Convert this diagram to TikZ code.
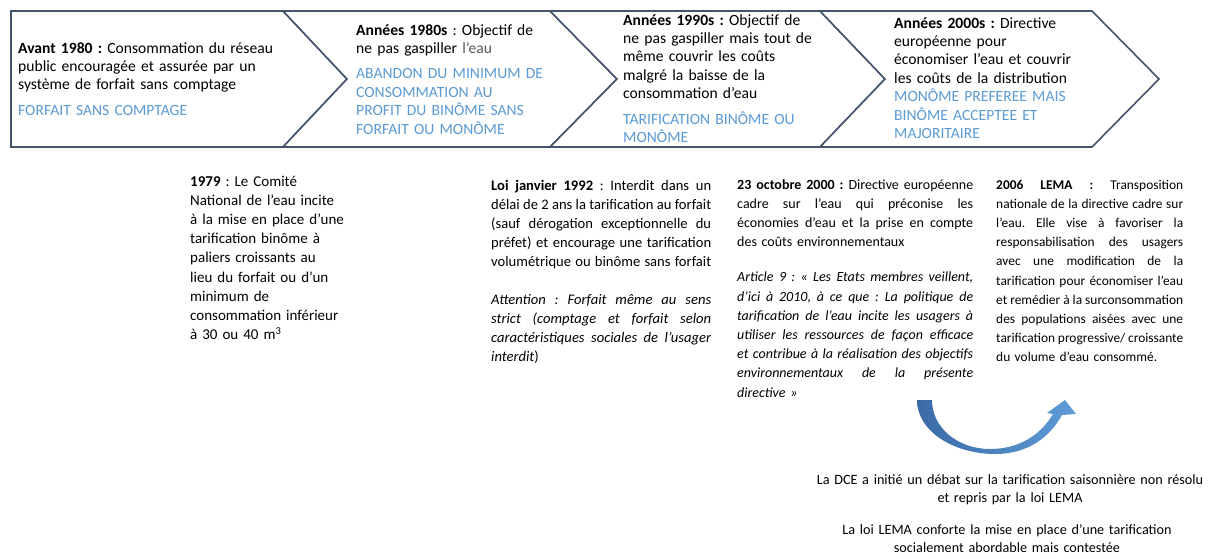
\documentclass[tikz,border=0pt]{standalone}
\usepackage{fontspec}
\setmainfont{Carlito}
\definecolor{edge}{HTML}{44546A}
\definecolor{capblue}{HTML}{5B9BD5}
\definecolor{arrowdark}{HTML}{3A6AA6}
\definecolor{arrowlight}{HTML}{5E9DD8}
\newcommand\jl[1]{\makebox[\linewidth][s]{\spaceskip=0.22em plus 1fil minus 0.1em\relax #1}\\}
\newcommand\sq{\char"27\relax}
\frenchspacing
\tikzset{
  chev/.style={draw=edge, line width=1.6pt, fill=white, line join=miter},
  ctext/.style={anchor=base west, inner sep=0pt, align=left, text width=#1,
    font=\fontsize{15.6}{18.4}\selectfont\frenchspacing},
  btext/.style={anchor=base west, inner sep=0pt, align=left, text width=#1,
    font=\fontsize{15}{19.2}\selectfont\frenchspacing},
  note/.style={anchor=base, inner sep=0pt, align=center, text width=420pt,
    font=\fontsize{14.2}{18.4}\selectfont\frenchspacing}
}
\begin{document}
\begin{tikzpicture}[x=1pt,y=-1pt]
\useasboundingbox (0,0) rectangle (1209,558);
% chevrons
\draw[chev] (11,11) -- (283,11) -- (347,79) -- (283,147) -- (11,147) -- cycle;
\draw[chev] (283,11) -- (550,11) -- (617,79) -- (550,147) -- (283,147) -- (347,79) -- cycle;
\draw[chev] (550,11) -- (820,11) -- (885,79) -- (820,147) -- (550,147) -- (617,79) -- cycle;
\draw[chev] (820,11) -- (1092,11) -- (1159,79) -- (1092,147) -- (820,147) -- (885,79) -- cycle;

\node[ctext=280pt] (c1) at (18,53) {\textbf{Avant 1980 :} Consommation du réseau\\
public encouragée et assurée par un\\
système de forfait sans comptage\\[7pt]
\textcolor{capblue}{FORFAIT SANS COMPTAGE}};

\node[ctext=220pt] (c2) at (356,35) {\textbf{Années 1980s} : Objectif de\\
ne pas gaspiller \textcolor{black!65}{l\sq eau}\\[7pt]
\textcolor{capblue}{ABANDON DU MINIMUM DE}\\
\textcolor{capblue}{CONSOMMATION AU}\\
\textcolor{capblue}{PROFIT DU BINÔME SANS}\\
\textcolor{capblue}{FORFAIT OU MONÔME}};

\node[ctext=220pt] (c3) at (623,25) {\textbf{Années 1990s :} Objectif de\\
ne pas gaspiller mais tout de\\
même couvrir les coûts\\
malgré la baisse de la\\
consommation d\sq eau\\[7pt]
\textcolor{capblue}{TARIFICATION BINÔME OU}\\
\textcolor{capblue}{MONÔME}};

\node[ctext=220pt] (c4) at (894,28) {\textbf{Années 2000s :} Directive\\
européenne pour\\
économiser l\sq eau et couvrir\\
les coûts de la distribution\\
\textcolor{capblue}{MONÔME PREFEREE MAIS}\\
\textcolor{capblue}{BINÔME ACCEPTEE ET}\\
\textcolor{capblue}{MAJORITAIRE}};

% lower blocks
\node[btext=180pt] (b1979) at (190,186) {\textbf{1979} : Le Comité\\
National de l’eau incite\\
à la mise en place d’une\\
tarification binôme à\\
paliers croissants au\\
lieu du forfait ou d’un\\
minimum de\\
consommation inférieur\\
à 30 ou 40 m\textsuperscript{3}};

\node[btext=220pt, font=\fontsize{14.6}{19.2}\selectfont\frenchspacing] (b1992) at (491,190) {\jl{\textbf{Loi janvier 1992} : Interdit dans un}
\jl{délai de 2 ans la tarification au forfait}
\jl{(sauf dérogation exceptionnelle du}
\jl{préfet) et encourage une tarification}
\jl{volumétrique ou binôme sans forfait}[18pt]
\jl{\textit{Attention : Forfait même au sens}}
\jl{\textit{strict (comptage et forfait selon}}
\jl{\textit{caractéristiques sociales de l’usager}}
\textit{interdit})};

\node[btext=236pt, font=\fontsize{14}{19.2}\selectfont\frenchspacing] (b2000) at (737,189) {\jl{\textbf{23 octobre 2000 :} Directive européenne}
\jl{cadre sur l’eau qui préconise les}
\jl{économies d’eau et la prise en compte}
des coûts environnementaux\\[16pt]
\jl{\textit{Article 9 : « Les Etats membres veillent,}}
\jl{\textit{d’ici à 2010, à ce que : La politique de}}
\jl{\textit{tarification de l’eau incite les usagers à}}
\jl{\textit{utiliser les ressources de façon efficace}}
\jl{\textit{et contribue à la réalisation des objectifs}}
\jl{\textit{environnementaux de la présente}}
\textit{directive »}};

\node[btext=187pt, font=\fontsize{13.4}{19.2}\selectfont\frenchspacing] (b2006) at (996,189) {\jl{\textbf{2006 LEMA :} Transposition}
\jl{nationale de la directive cadre sur}
\jl{l’eau. Elle vise à favoriser la}
\jl{responsabilisation des usagers}
\jl{avec une modification de la}
\jl{tarification pour économiser l’eau}
\jl{et remédier à la surconsommation}
\jl{des populations aisées avec une}
\jl{tarification progressive/ croissante}
du volume d’eau consommé.};

% curved arrow
\shade[left color=arrowdark, right color=arrowlight]
  (917,400) .. controls (917,432) and (955,454) .. (995,454)
  .. controls (1028,454) and (1050,437) .. (1062,415)
  -- (1076,414) -- (1065,400) -- (1047,413) -- (1053,414)
  .. controls (1040,436) and (1018,449) .. (990,449)
  .. controls (958,449) and (932,428) .. (932,400) -- cycle;

% bottom notes
\node[note] (n1) at (1010,484)
  {La DCE a initié un débat sur la tarification saisonnière non résolu\\
  et repris par la loi LEMA};
\node[note] (n2) at (1007,534)
  {La loi LEMA conforte la mise en place d’une tarification\\
  socialement abordable mais contestée};
\end{tikzpicture}
\end{document}
